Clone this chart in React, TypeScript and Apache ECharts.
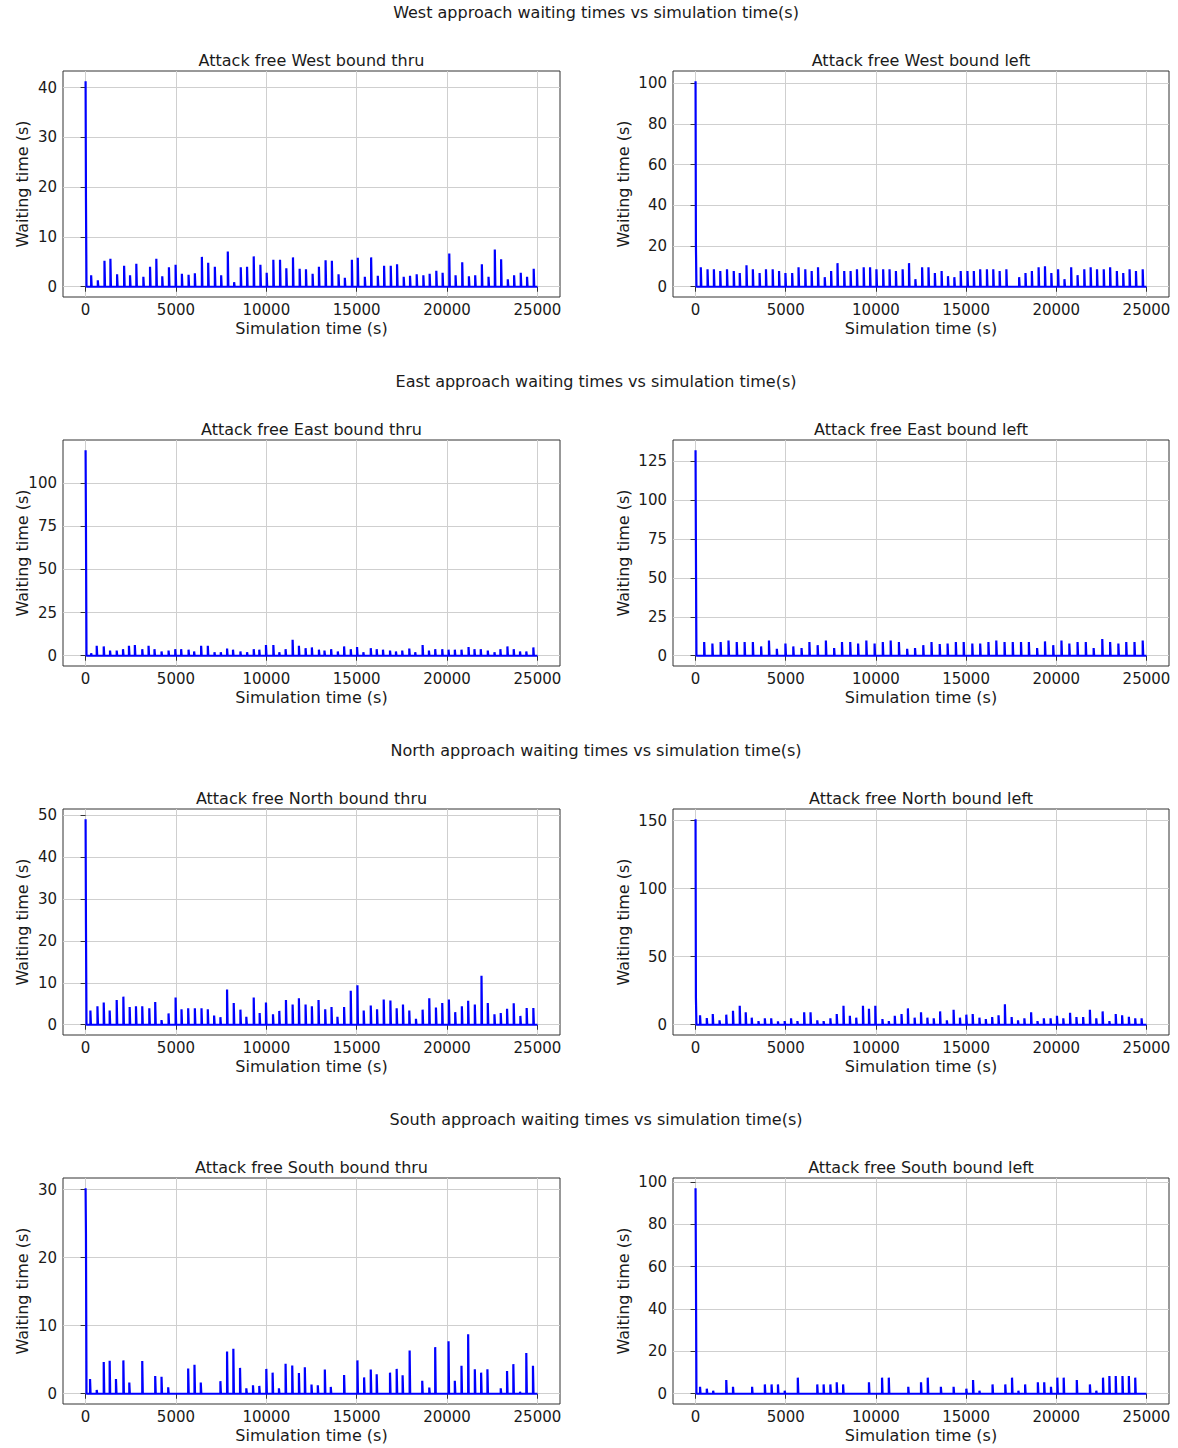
import React, { useEffect, useRef } from "react";
import * as echarts from "echarts";

// ---------- axis ticks ----------
const xTicks = [0, 5000, 10000, 15000, 20000, 25000];

// ---------- West bound thru ----------
const westThruStart = [41.3, 18];
const westThruT = [307, 676, 1045, 1373, 1742, 2131, 2459, 2807, 3197, 3566, 3914, 4242, 4611, 4980, 5328, 5697, 6045, 6434, 6783, 7152, 7500, 7869, 8217, 8586, 8934, 9303, 9672, 10020, 10389, 10758, 11107, 11475, 11844, 12193, 12561, 12910, 13279, 13627, 13996, 14344, 14734, 15061, 15451, 15799, 16168, 16516, 16885, 17234, 17602, 17951, 18320, 18689, 19037, 19406, 19754, 20123, 20471, 20840, 21209, 21557, 21926, 22295, 22643, 22992, 23361, 23709, 24078, 24426, 24795];
const westThruH = [2.3, 1.3, 5.2, 5.6, 2.5, 4.2, 2.3, 4.6, 2.0, 4.0, 5.6, 2.1, 3.9, 4.4, 2.6, 2.4, 2.7, 6.0, 4.8, 4.0, 2.3, 7.1, 0.9, 3.9, 4.0, 6.1, 4.4, 2.8, 5.4, 5.4, 3.7, 5.9, 3.6, 3.5, 2.6, 4.0, 5.3, 5.2, 2.5, 1.8, 5.4, 5.8, 2.0, 5.9, 2.2, 4.2, 4.2, 4.5, 2.0, 2.2, 2.5, 2.3, 2.6, 3.2, 2.8, 6.7, 2.3, 4.9, 2.1, 2.3, 4.5, 2.0, 7.5, 5.5, 1.5, 2.3, 2.8, 2.0, 3.6];
const westThruTicks = [0, 10, 20, 30, 40];

// ---------- West bound left ----------
const westLeftStart = [101, 21];
const westLeftT = [291, 665, 1017, 1370, 1744, 2118, 2450, 2824, 3177, 3551, 3904, 4277, 4630, 4983, 5357, 5710, 6084, 6437, 6790, 7163, 7517, 7870, 8243, 8596, 8949, 9323, 9676, 10029, 10403, 10756, 11109, 11482, 11835, 12188, 12562, 12915, 13268, 13642, 13995, 14348, 14701, 15075, 15428, 15781, 16155, 16507, 16860, 17234, 17940, 18293, 18646, 19020, 19373, 19726, 20100, 20453, 20826, 21179, 21553, 21906, 22259, 22633, 22986, 23359, 23712, 24065, 24418, 24792];
const westLeftH = [9.6, 8.6, 8.6, 7.7, 8.6, 7.7, 6.7, 10.6, 8.6, 6.7, 8.6, 8.6, 7.7, 6.7, 6.7, 9.6, 8.6, 7.7, 9.6, 4.7, 7.7, 11.6, 7.7, 7.7, 8.6, 9.6, 9.6, 8.6, 8.6, 8.6, 7.7, 8.6, 11.6, 3.7, 9.6, 9.6, 6.7, 7.7, 5.2, 4.7, 7.7, 7.7, 7.7, 8.6, 8.6, 8.6, 7.7, 8.6, 4.7, 6.7, 7.7, 9.6, 10.1, 6.7, 8.6, 3.7, 9.6, 5.7, 8.6, 9.6, 8.6, 8.6, 9.6, 7.7, 6.7, 8.6, 7.7, 8.6];
const westLeftTicks = [0, 20, 40, 60, 80, 100];

// ---------- East bound thru ----------
const eastThruStart = [119, 75];
const eastThruT = [307, 615, 1004, 1352, 1721, 2070, 2398, 2725, 3135, 3484, 3811, 4201, 4590, 4959, 5287, 5697, 6004, 6393, 6762, 7131, 7480, 7828, 8156, 8566, 8934, 9303, 9611, 9980, 10389, 10717, 11066, 11455, 11803, 12172, 12520, 12910, 13217, 13586, 13955, 14303, 14672, 15020, 15369, 15779, 16107, 16455, 16844, 17172, 17520, 17910, 18238, 18648, 18996, 19344, 19734, 20082, 20430, 20799, 21189, 21516, 21865, 22254, 22623, 22951, 23340, 23689, 24037, 24385, 24775];
const eastThruH = [1.5, 5.8, 5.4, 3.0, 3.0, 3.8, 5.8, 6.2, 3.8, 5.8, 3.8, 2.5, 3.0, 3.8, 3.8, 3.5, 2.5, 5.8, 5.8, 2.0, 2.0, 4.2, 3.5, 2.5, 2.0, 3.8, 3.5, 6.2, 6.2, 2.0, 3.8, 9.2, 5.8, 4.4, 4.8, 3.5, 3.0, 3.8, 2.5, 5.4, 3.8, 5.0, 2.0, 4.4, 3.8, 3.5, 3.0, 2.5, 3.0, 4.2, 2.0, 6.2, 3.0, 3.8, 3.8, 3.5, 3.5, 3.5, 5.0, 3.8, 3.8, 3.0, 2.0, 3.8, 5.4, 3.8, 2.5, 2.5, 4.8];
const eastThruTicks = [0, 25, 50, 75, 100];

// ---------- East bound left ----------
const eastLeftStart = [132, 70, 20];
const eastLeftT = [478, 934, 1391, 1827, 2284, 2720, 3177, 3634, 4070, 4506, 4983, 5419, 5876, 6312, 6769, 7226, 7683, 8119, 8576, 9012, 9469, 9926, 10382, 10818, 11275, 11732, 12168, 12625, 13082, 13538, 13974, 14431, 14867, 15344, 15781, 16238, 16674, 17131, 17587, 18044, 18480, 18937, 19373, 19830, 20287, 20723, 21179, 21636, 22072, 22550, 22986, 23442, 23879, 24336, 24792];
const eastLeftH = [8.8, 7.9, 8.8, 9.8, 8.8, 8.8, 8.8, 6.0, 9.8, 4.5, 7.9, 6.0, 4.9, 8.8, 6.8, 9.8, 4.9, 8.8, 8.8, 7.9, 9.8, 7.9, 8.8, 9.8, 8.8, 4.5, 4.9, 6.8, 8.8, 7.5, 7.9, 8.8, 8.8, 7.9, 7.9, 8.8, 9.8, 8.8, 8.8, 8.8, 8.8, 4.9, 9.2, 6.8, 9.8, 7.9, 8.8, 8.8, 4.9, 10.7, 8.8, 7.9, 8.8, 8.8, 9.8];
const eastLeftTicks = [0, 25, 50, 75, 100, 125];

// ---------- North bound thru ----------
const northThruStart = [49, 24];
const northThruT = [266, 656, 1004, 1332, 1721, 2090, 2439, 2787, 3135, 3525, 3852, 4201, 4590, 4980, 5307, 5676, 6045, 6414, 6762, 7111, 7459, 7828, 8197, 8566, 8893, 9303, 9631, 9980, 10369, 10717, 11086, 11455, 11803, 12172, 12520, 12889, 13258, 13607, 13934, 14303, 14672, 15041, 15389, 15779, 16127, 16496, 16865, 17213, 17561, 17910, 18279, 18648, 19016, 19385, 19734, 20102, 20451, 20820, 21168, 21537, 21906, 22254, 22623, 22971, 23320, 23689, 24057, 24406, 24775];
const northThruH = [3.4, 4.4, 5.3, 3.4, 5.9, 6.7, 4.2, 4.4, 4.4, 3.9, 5.4, 1.1, 2.7, 6.5, 3.7, 3.9, 3.9, 3.9, 3.7, 2.2, 1.8, 8.4, 5.2, 3.6, 1.9, 6.5, 2.8, 5.3, 2.5, 3.3, 5.9, 4.8, 6.3, 4.8, 4.4, 5.9, 3.7, 4.2, 1.9, 4.2, 8.1, 9.4, 3.4, 4.6, 3.7, 6.0, 5.8, 3.9, 4.8, 3.4, 1.4, 3.6, 6.3, 4.1, 5.2, 6.0, 3.0, 4.4, 5.7, 4.8, 11.7, 5.2, 2.5, 2.8, 3.8, 5.1, 2.1, 4.0, 4.0];
const northThruTicks = [0, 10, 20, 30, 40, 50];

// ---------- North bound left ----------
const northLeftStart = [151, 20];
const northLeftT = [249, 623, 955, 1329, 1703, 2076, 2450, 2782, 3115, 3488, 3841, 4194, 4568, 4942, 5295, 5648, 6022, 6375, 6748, 7101, 7475, 7828, 8202, 8555, 8908, 9282, 9614, 9967, 10361, 10714, 11046, 11420, 11773, 12147, 12500, 12853, 13206, 13559, 13933, 14307, 14660, 15013, 15366, 15739, 16093, 16445, 16798, 17151, 17525, 17878, 18231, 18605, 18958, 19311, 19684, 20037, 20390, 20764, 21117, 21490, 21864, 22217, 22570, 22944, 23297, 23650, 24024, 24377, 24730];
const northLeftH = [6.9, 4.9, 7.9, 3.2, 7.4, 10.3, 14, 9.1, 5.2, 2.7, 4.7, 4.7, 2.5, 2.7, 4.7, 2.7, 9.1, 9.1, 3.2, 2.7, 4.7, 7.9, 14, 6.6, 5.2, 14, 11.8, 14, 4.2, 2.7, 6.6, 7.9, 12, 5.2, 9.1, 5.2, 4.7, 9.8, 3.2, 11, 5.2, 7.4, 7.9, 5.2, 4.2, 5.6, 6.9, 15, 5.6, 3.2, 4.7, 9.1, 2.7, 4.7, 4.7, 6.6, 4.7, 8.8, 5.6, 5.6, 11, 4.7, 9.8, 2.7, 7.9, 6.9, 5.9, 4.7, 4.7];
const northLeftTicks = [0, 50, 100, 150];

// ---------- South bound thru ----------
const southThruStart = [30.2, 23.5];
const southThruT = [246, 615, 1004, 1332, 1680, 2090, 2418, 3135, 3852, 4201, 4570, 5676, 6025, 6373, 7459, 7828, 8176, 8545, 8893, 9262, 9611, 10000, 10348, 10697, 11066, 11434, 11803, 12131, 12500, 12848, 13238, 13566, 14303, 15041, 15410, 15779, 16107, 16844, 17213, 17541, 17930, 18627, 19016, 19344, 20082, 20430, 20799, 21168, 21537, 21885, 22234, 22971, 23320, 23668, 24037, 24385, 24754];
const southThruH = [2.15, 0.55, 4.65, 4.85, 2.15, 4.9, 1.65, 4.8, 2.6, 2.5, 0.95, 3.7, 4.25, 1.65, 1.85, 6.2, 6.6, 3.8, 0.8, 1.25, 1.15, 3.65, 3.1, 0.8, 4.4, 4.15, 3.05, 3.9, 1.35, 1.25, 3.55, 1.0, 2.75, 4.9, 2.4, 3.55, 2.85, 3.1, 3.65, 2.7, 6.35, 1.9, 0.9, 6.85, 7.7, 1.9, 4.1, 8.75, 3.6, 3.1, 3.6, 0.8, 3.35, 4.35, 0.3, 6.0, 4.1];
const southThruTicks = [0, 10, 20, 30];

// ---------- South bound left ----------
const southLeftStart = [97, 60];
const southLeftT = [249, 623, 976, 1703, 2076, 3135, 3841, 4215, 4568, 4942, 5669, 6748, 7101, 7475, 7828, 8181, 9614, 10340, 10714, 11794, 12500, 12874, 13601, 14307, 15013, 15386, 15739, 16466, 17172, 17546, 17899, 18272, 18978, 19331, 19705, 20058, 20411, 21138, 21864, 22217, 22591, 22944, 23297, 23671, 24024, 24377];
const southLeftH = [3.3, 2.4, 1.4, 6.5, 3.3, 3.3, 4.4, 4.4, 4.4, 1.4, 7.6, 4.4, 4.4, 4.4, 5.4, 4.4, 5.4, 7.6, 7.6, 3.3, 5.4, 7.6, 3.3, 3.3, 2.4, 6.5, 1.4, 4.4, 4.4, 7.6, 1.4, 4.4, 5.4, 5.4, 3.3, 7.6, 7.6, 6.5, 4.4, 1.4, 7.6, 8.4, 8.4, 8.4, 8.4, 7.6];
const southLeftTicks = [0, 20, 40, 60, 80, 100];

// ---------- texts ----------
const sectionTitles = [
  "West approach waiting times vs simulation time(s)",
  "East approach waiting times vs simulation time(s)",
  "North approach waiting times vs simulation time(s)",
  "South approach waiting times vs simulation time(s)",
];

const panels = [
  { title: "Attack free West bound thru", start: westThruStart, t: westThruT, h: westThruH, ticks: westThruTicks },
  { title: "Attack free West bound left", start: westLeftStart, t: westLeftT, h: westLeftH, ticks: westLeftTicks },
  { title: "Attack free East bound thru", start: eastThruStart, t: eastThruT, h: eastThruH, ticks: eastThruTicks },
  { title: "Attack free East bound left", start: eastLeftStart, t: eastLeftT, h: eastLeftH, ticks: eastLeftTicks },
  { title: "Attack free North bound thru", start: northThruStart, t: northThruT, h: northThruH, ticks: northThruTicks },
  { title: "Attack free North bound left", start: northLeftStart, t: northLeftT, h: northLeftH, ticks: northLeftTicks },
  { title: "Attack free South bound thru", start: southThruStart, t: southThruT, h: southThruH, ticks: southThruTicks },
  { title: "Attack free South bound left", start: southLeftStart, t: southLeftT, h: southLeftH, ticks: southLeftTicks },
];

// ---------- layout ----------
const FONT = "DejaVu Sans";
const FS_TITLE = 16;
const FS_TICK = 15;
const TEXT = "#1a1a1a";
const COL_LEFT = [63, 673];
const COL_W = [497, 496];
const ROW_TOP = [71, 440, 809, 1178];
const PLOT_H = 226;
const T_END = 25000;

function buildLine(start: number[], t: number[], h: number[]) {
  const pts: number[][] = [];
  start.forEach((v, i) => pts.push([i * 20, v]));
  pts.push([50, 0]);
  const n = Math.min(t.length, h.length);
  for (let i = 0; i < n; i++) {
    pts.push([t[i], 0], [t[i], h[i]], [t[i] + 30, h[i]], [t[i] + 30, 0]);
  }
  pts.push([T_END, 0]);
  return pts;
}

export default function App() {
  const ref = useRef<HTMLDivElement>(null);

  useEffect(() => {
    if (!ref.current) return;
    const chart = echarts.init(ref.current, null, { renderer: "svg" });

    const grids: any[] = [];
    const xAxes: any[] = [];
    const yAxes: any[] = [];
    const series: any[] = [];
    const graphics: any[] = [];

    sectionTitles.forEach((s, r) => {
      graphics.push({
        type: "text",
        x: 596,
        y: ROW_TOP[r] - 59,
        style: { text: s, fontSize: FS_TITLE, fontFamily: FONT, fill: TEXT, textAlign: "center", textVerticalAlign: "middle" },
      });
    });

    panels.forEach((p, i) => {
      const c = i % 2;
      const r = Math.floor(i / 2);
      const left = COL_LEFT[c];
      const top = ROW_TOP[r];
      const w = COL_W[c];
      const peak = Math.max(...p.start, ...p.h);
      grids.push({
        left, top, width: w, height: PLOT_H,
        show: true, borderColor: "#333", borderWidth: 1, backgroundColor: "transparent",
        containLabel: false, outerBoundsMode: "none",
      });
      xAxes.push({
        type: "value", gridIndex: i, min: -0.05 * T_END, max: 1.05 * T_END,
        name: "Simulation time (s)", nameLocation: "middle", nameGap: 23, nameMoveOverlap: false,
        nameTextStyle: { fontSize: FS_TITLE, fontFamily: FONT, color: TEXT },
        axisLine: { show: false },
        axisTick: { show: true, inside: false, length: 5, customValues: xTicks, lineStyle: { color: "#333", width: 1 } },
        axisLabel: { customValues: xTicks, fontSize: FS_TICK, fontFamily: FONT, color: TEXT, margin: 5, formatter: (v: number) => String(v) },
        splitLine: { show: true, lineStyle: { color: "#cfcfcf", width: 1 } },
      });
      yAxes.push({
        type: "value", gridIndex: i, min: -0.05 * peak, max: 1.05 * peak,
        name: "Waiting time (s)", nameLocation: "middle", nameRotate: 90, nameMoveOverlap: false,
        nameGap: c === 0 ? 33 : 42,
        nameTextStyle: { fontSize: FS_TITLE, fontFamily: FONT, color: TEXT },
        axisLine: { show: false },
        axisTick: { show: true, inside: false, length: 5, customValues: p.ticks, lineStyle: { color: "#333", width: 1 } },
        axisLabel: { customValues: p.ticks, fontSize: FS_TICK, fontFamily: FONT, color: TEXT, margin: 6, formatter: (v: number) => String(v) },
        splitLine: { show: true, lineStyle: { color: "#cfcfcf", width: 1 } },
      });
      series.push({
        type: "line", xAxisIndex: i, yAxisIndex: i, data: buildLine(p.start, p.t, p.h),
        showSymbol: false, symbol: "none", silent: true,
        lineStyle: { color: "#0000ff", width: 2.2, join: "bevel" },
      });
      graphics.push({
        type: "text",
        x: left + w / 2,
        y: top - 11,
        style: { text: p.title, fontSize: FS_TITLE, fontFamily: FONT, fill: TEXT, textAlign: "center", textVerticalAlign: "middle" },
      });
    });

    chart.setOption({
      animation: false,
      backgroundColor: "#ffffff",
      grid: grids,
      xAxis: xAxes,
      yAxis: yAxes,
      series,
      graphic: graphics,
    });

    return () => chart.dispose();
  }, []);

  return (
    <div
      ref={ref}
      style={{ position: "absolute", left: 0, top: 0, width: 1178, height: 1448 }}
    />
  );
}
